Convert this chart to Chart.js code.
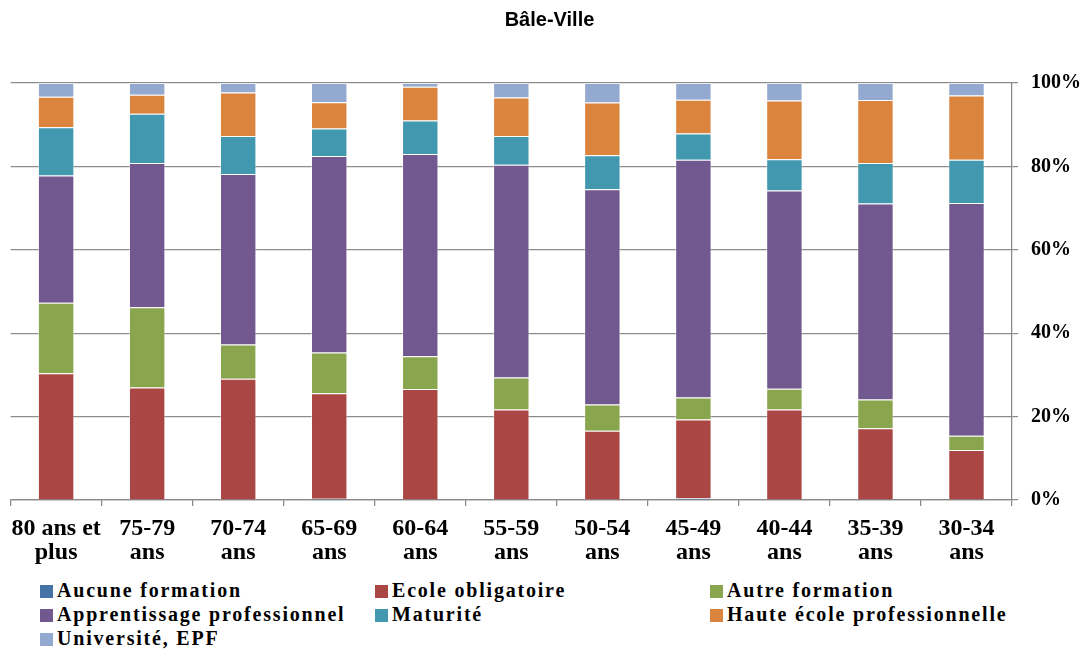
<!DOCTYPE html>
<html>
<head>
<meta charset="utf-8">
<script src="https://cdn.jsdelivr.net/npm/chart.js@4.4.1/dist/chart.umd.min.js"></script>
<style>
  body { margin: 0; background: #fff; }
  #wrap { position: relative; width: 1089px; height: 651px; }
  #chart-box { position: absolute; left: 0; top: 0; width: 1089px; height: 575px; }
  #legend { position: absolute; left: 0; top: 578px; width: 1089px; font-family: "Liberation Serif", serif; font-weight: bold; font-size: 20px; letter-spacing: 1.8px; color: #000; }
  .item { position: absolute; white-space: nowrap; line-height: 24px; }
  .box { display: inline-block; width: 13px; height: 13px; margin-right: 4px; vertical-align: -1px; }
</style>
</head>
<body>
<div id="wrap">
  <div id="chart-box"><canvas id="chart"></canvas></div>
  <div id="legend"></div>
</div>
<script>
const categories = [
  ["80 ans et", "plus"], ["75-79", "ans"], ["70-74", "ans"], ["65-69", "ans"], ["60-64", "ans"],
  ["55-59", "ans"], ["50-54", "ans"], ["45-49", "ans"], ["40-44", "ans"], ["35-39", "ans"], ["30-34", "ans"]
];
const yTicks = [0, 20, 40, 60, 80, 100];

const aucuneFormation = [0, 0, 0, 0.3, 0, 0, 0, 0.4, 0, 0, 0];
const ecoleObligatoire = [30.4, 27.0, 29.1, 25.3, 26.6, 21.7, 16.6, 18.9, 21.7, 17.2, 12.0];
const autreFormation = [16.9, 19.2, 8.2, 9.8, 7.9, 7.7, 6.3, 5.3, 5.0, 6.9, 3.4];
const apprentissage = [30.5, 34.6, 40.9, 47.1, 48.5, 51.0, 51.6, 57.0, 47.5, 47.0, 55.8];
const maturite = [11.6, 11.8, 9.1, 6.6, 8.0, 6.9, 8.2, 6.3, 7.5, 9.7, 10.4];
const hauteEcole = [7.3, 4.6, 10.4, 6.3, 8.1, 9.2, 12.6, 8.1, 14.1, 15.1, 15.4];
const universite = [3.3, 2.8, 2.3, 4.6, 0.9, 3.5, 4.7, 4.0, 4.2, 4.1, 3.0];

const seriesNames = ["Aucune formation", "Ecole obligatoire", "Autre formation",
  "Apprentissage professionnel", "Maturité", "Haute école professionnelle", "Université, EPF"];
const seriesData = [aucuneFormation, ecoleObligatoire, autreFormation, apprentissage, maturite, hauteEcole, universite];
const seriesColors = ["#4572A7", "#AA4643", "#89A54E", "#71588F", "#4198AF", "#DB843D", "#93A9CF"];

const serif = "'Liberation Serif', 'Times New Roman', serif";

const datasets = seriesNames.map((name, i) => ({
  label: name,
  data: seriesData[i],
  backgroundColor: seriesColors[i],
  borderColor: "rgba(255,255,255,0.45)",
  borderWidth: 1,
  barPercentage: 0.4,
  categoryPercentage: 1.0,
}));

new Chart(document.getElementById("chart"), {
  type: "bar",
  data: { labels: categories, datasets: datasets },
  options: {
    responsive: true,
    maintainAspectRatio: false,
    animation: false,
    layout: { padding: { left: 10, right: 0, top: 0, bottom: 0 } },
    plugins: {
      legend: { display: false },
      tooltip: { enabled: false },
      title: {
        display: true,
        text: "Bâle-Ville",
        color: "#000",
        font: { family: "'Liberation Sans', Arial, sans-serif", size: 20, weight: "bold" },
        padding: { top: 8, bottom: 51 },
      },
    },
    scales: {
      x: {
        stacked: true,
        grid: { drawOnChartArea: false, drawTicks: true, tickLength: 6, color: "#888", lineWidth: 1.25 },
        border: { color: "#888", width: 1.25 },
        ticks: { color: "#000", font: { family: serif, size: 24, weight: "bold", lineHeight: 1.0 }, maxRotation: 0, autoSkip: false, padding: 11 },
        afterFit: (axis) => { axis.height = 75; },
      },
      y: {
        stacked: true,
        position: "right",
        min: 0,
        max: 100,
        afterBuildTicks: (axis) => { axis.ticks = yTicks.map(v => ({ value: v })); },
        grid: { color: "#8c8c8c", lineWidth: 1.25, tickLength: 6 },
        border: { color: "#888", width: 1.25 },
        ticks: { color: "#000", font: { family: serif, size: 20, weight: "bold" }, padding: 13, callback: (v) => v + "%" },
        afterFit: (axis) => { axis.width = 77; },
      },
    },
  },
});

// legend in three columns, like the original
const legendEl = document.getElementById("legend");
const colX = [40, 375, 710];
seriesNames.forEach((name, i) => {
  const item = document.createElement("div");
  item.className = "item";
  item.style.left = colX[i % 3] + "px";
  item.style.top = Math.floor(i / 3) * 24 + "px";
  item.innerHTML = '<span class="box" style="background:' + seriesColors[i] + '"></span>' + name;
  legendEl.appendChild(item);
});
</script>
</body>
</html>
